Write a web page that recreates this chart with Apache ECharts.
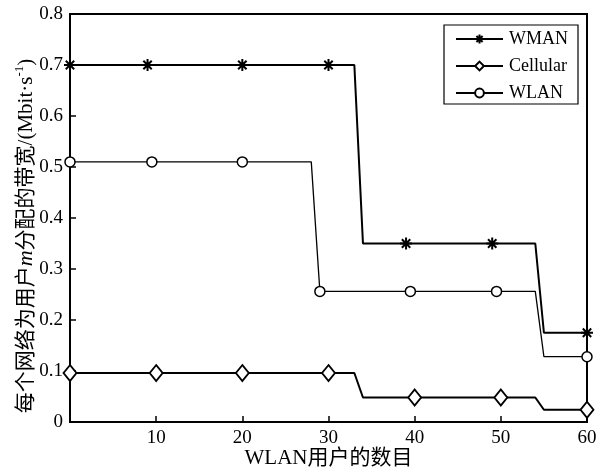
<!DOCTYPE html>
<html>
<head>
<meta charset="utf-8">
<script src="https://cdn.jsdelivr.net/npm/echarts@6/dist/echarts.min.js"></script>
<style>
  html, body { margin: 0; padding: 0; background: #fff; }
  #chart { width: 605px; height: 471px; }
</style>
</head>
<body>
<div id="chart"></div>
<script>
// Bandwidth allotted to user m by each network vs. number of WLAN users
const seriesNames = ['WMAN', 'Cellular', 'WLAN'];

// [number of WLAN users, bandwidth (Mbit/s)]
const wmanPoints = [[0, 0.70], [9, 0.70], [20, 0.70], [30, 0.70], [33, 0.70], [34, 0.35],
  [39, 0.35], [49, 0.35], [54, 0.35], [55, 0.175], [60, 0.175]];
const cellularPoints = [[0, 0.096], [10, 0.096], [20, 0.096], [30, 0.096], [33, 0.096], [34, 0.048],
  [40, 0.048], [50, 0.048], [54, 0.048], [55, 0.024], [60, 0.024]];
const wlanPoints = [[0, 0.51], [9.5, 0.51], [20, 0.51], [28, 0.51], [29, 0.256],
  [39.5, 0.256], [49.5, 0.256], [54, 0.256], [55, 0.128], [60, 0.128]];

// x positions that carry a marker
const wmanMarked = [0, 9, 20, 30, 39, 49, 60];
const cellularMarked = [0, 10, 20, 30, 40, 50, 60];
const wlanMarked = [0, 9.5, 20, 29, 39.5, 49.5, 60];

const xTickLabels = ['10', '20', '30', '40', '50', '60'];
const yTickLabels = ['0', '0.1', '0.2', '0.3', '0.4', '0.5', '0.6', '0.7', '0.8'];

const serif = '"Liberation Serif", "Times New Roman", "Noto Sans CJK SC", serif';
const asterisk = 'path://M0 5L10 5M5 0L5 10M1.5 1.5L8.5 8.5M8.5 1.5L1.5 8.5';

function withMarkers(points, marked) {
  return points.map(function (p) {
    return marked.indexOf(p[0]) >= 0 ? { value: p } : { value: p, symbol: 'none' };
  });
}

function makeSeries(name, points, marked, symbol, symbolSize, width, borderWidth) {
  return {
    name: name,
    type: 'line',
    data: withMarkers(points, marked),
    symbol: symbol,
    symbolSize: symbolSize,
    showAllSymbol: true,
    clip: false,
    lineStyle: { color: '#000', width: width },
    itemStyle: { color: symbol === asterisk ? '#000' : '#fff', borderColor: '#000', borderWidth: borderWidth },
    emphasis: { disabled: true },
    animation: false
  };
}

const chart = echarts.init(document.getElementById('chart'), null, { renderer: 'canvas' });

chart.setOption({
  backgroundColor: '#fff',
  animation: false,
  grid: {
    left: 70, right: 18, top: 14, bottom: 49,
    outerBoundsMode: 'none',
    containLabel: false,
    show: true, borderColor: '#000', borderWidth: 2, backgroundColor: 'transparent'
  },
  legend: {
    data: seriesNames,
    orient: 'vertical',
    right: 27,
    top: 25,
    itemWidth: 47,
    itemHeight: 11,
    itemGap: 9,
    padding: [5, 10, 2, 11],
    borderColor: '#000',
    borderWidth: 1.2,
    backgroundColor: '#fff',
    textStyle: { fontFamily: serif, fontSize: 18, color: '#000', padding: [0, 0, 0, 1] }
  },
  xAxis: {
    type: 'value',
    min: 0, max: 60, interval: 10,
    name: 'WLAN用户的数目',
    nameLocation: 'middle',
    nameGap: 26,
    nameMoveOverlap: false,
    nameTextStyle: { fontFamily: serif, fontSize: 21, color: '#000' },
    axisLine: { lineStyle: { color: '#000', width: 2 } },
    axisTick: { inside: true, length: 6, lineStyle: { color: '#000', width: 1.5 } },
    axisLabel: {
      fontFamily: serif, fontSize: 19, color: '#000', margin: 7,
      formatter: function (v) {
        const s = String(v);
        return xTickLabels.indexOf(s) >= 0 ? s : '';
      }
    },
    splitLine: { show: false }
  },
  yAxis: {
    type: 'value',
    min: 0, max: 0.8, interval: 0.1,
    name: '{a|每个网络为用户}{i|m}{a|分配的带宽/(Mbit·s}{sup|-1}{a|)}',
    nameLocation: 'middle',
    nameRotate: 90,
    nameGap: 33,
    nameMoveOverlap: false,
    nameTextStyle: {
      color: '#000',
      padding: [0, 36, 0, 0],
      rich: {
        a: { fontFamily: serif, fontSize: 21, color: '#000', lineHeight: 24, verticalAlign: 'bottom' },
        i: { fontFamily: serif, fontSize: 22, fontStyle: 'italic', color: '#000', lineHeight: 24, verticalAlign: 'bottom' },
        sup: { fontFamily: serif, fontSize: 13, color: '#000', lineHeight: 14, verticalAlign: 'top' }
      }
    },
    axisLine: { lineStyle: { color: '#000', width: 2 } },
    axisTick: { inside: true, length: 6, lineStyle: { color: '#000', width: 1.5 } },
    axisLabel: {
      fontFamily: serif, fontSize: 19, color: '#000', margin: 7,
      formatter: function (v) {
        return yTickLabels[Math.round(v * 10)];
      }
    },
    splitLine: { show: false }
  },
  series: [
    makeSeries('WMAN', wmanPoints, wmanMarked, asterisk, 12, 2, 2),
    makeSeries('Cellular', cellularPoints, cellularMarked, 'diamond', [13, 16], 2, 1.8),
    makeSeries('WLAN', wlanPoints, wlanMarked, 'circle', 10, 1.3, 1.5)
  ]
});
</script>
</body>
</html>
